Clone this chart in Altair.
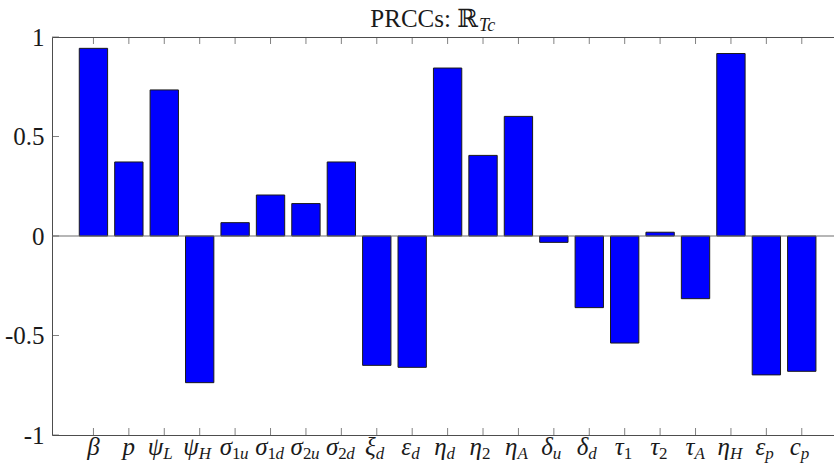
import altair as alt
import pandas as pd

# Parameter symbols (italic math) and their subscripts
symbols = ["β", "p", "ψ", "ψ", "σ", "σ", "σ", "σ", "ξ", "ε", "η",
           "η", "η", "δ", "δ", "τ", "τ", "τ", "η", "ε", "c"]
subscripts = ["", "", "L", "H", "1u", "1d", "2u", "2d", "d", "d", "d",
              "2", "A", "u", "d", "1", "2", "A", "H", "p", "p"]
# Partial rank correlation coefficients
prcc = [0.943, 0.372, 0.734, -0.737, 0.067, 0.206, 0.163, 0.372, -0.650, -0.660, 0.844,
        0.405, 0.601, -0.032, -0.360, -0.538, 0.019, -0.315, 0.917, -0.698, -0.680]
y_ticks = [-1, -0.5, 0, 0.5, 1]

W, H = 782, 398
X_MIN, X_MAX = -0.17, 21.91
PX = W / (X_MAX - X_MIN)  # pixels per bar slot

df = pd.DataFrame({
    "idx": list(range(1, len(prcc) + 1)),
    "sym": symbols,
    "sub": subscripts,
    "prcc": prcc,
})
df["nsub"] = df["sub"].str.len()
df["s1"] = df["sub"].str[:1]
df["s2"] = df["sub"].str[1:2]
df["s1digit"] = df["s1"].str.isdigit()

xscale = alt.Scale(domain=[X_MIN, X_MAX], nice=False, zero=False)
yscale = alt.Scale(domain=[-1, 1], nice=False, zero=False)

FONT = "'Liberation Serif', 'DejaVu Serif', serif"
EDGE = "#4d4d4d"

base = alt.Chart(df)

bars = base.transform_calculate(
    x0="datum.idx - 0.4", x1="datum.idx + 0.4"
).mark_bar(color="#0000ff", stroke="#1a1a1a", strokeWidth=1).encode(
    x=alt.X("x0:Q", scale=xscale, axis=None),
    x2="x1:Q",
    y=alt.Y("prcc:Q", scale=yscale, axis=alt.Axis(
        values=y_ticks, ticks=False, domain=False, grid=False, title=None,
        labelFont=FONT, labelFontSize=25, labelColor="#1a1a1a", labelPadding=8,
        labelFlush=False,
        labelExpr="datum.value < 0 ? '-' + format(-datum.value, '.1~f') : format(datum.value, '.1~f')",
    )),
    y2=alt.datum(0),
)

baseline = alt.Chart(pd.DataFrame({"v": [0]})).mark_rule(color="#6e6e6e", strokeWidth=1.2).encode(
    y=alt.Y("v:Q", scale=yscale)
)

# inward ticks on the bottom and top edges
xt_bottom = base.mark_tick(orient="vertical", size=7, thickness=1, color=EDGE).encode(
    x=alt.X("idx:Q", scale=xscale), y=alt.value(H - 3.5)
)
xt_top = base.mark_tick(orient="vertical", size=7, thickness=1, color=EDGE).encode(
    x=alt.X("idx:Q", scale=xscale), y=alt.value(3.5)
)
yt = alt.Chart(pd.DataFrame({"v": y_ticks})).mark_tick(
    orient="horizontal", size=7, thickness=1, color=EDGE
).encode(y=alt.Y("v:Q", scale=yscale), x=alt.value(3.5))

# tick labels: symbol + subscript
MAIN_Y = H + 20
SUB_Y = H + 24
split = base.transform_calculate(
    xs=f"datum.idx + (datum.nsub == 2 ? -3 : -1) / {PX}",
    xs2=f"datum.idx + (datum.nsub == 2 ? -3 : -1) / {PX} + 8 / {PX}",
)
txt = dict(font=FONT, color="#1a1a1a", baseline="alphabetic")

lab_plain = base.transform_filter("datum.nsub == 0").mark_text(
    align="center", fontSize=25, fontStyle="italic", **txt
).encode(x=alt.X("idx:Q", scale=xscale), y=alt.value(MAIN_Y), text="sym:N")

lab_main = split.transform_filter("datum.nsub > 0").mark_text(
    align="right", fontSize=25, fontStyle="italic", **txt
).encode(x=alt.X("xs:Q", scale=xscale), y=alt.value(MAIN_Y), text="sym:N")

lab_s1_it = split.transform_filter("datum.nsub > 0 && !datum.s1digit").mark_text(
    align="left", fontSize=17, fontStyle="italic", **txt
).encode(x=alt.X("xs:Q", scale=xscale), y=alt.value(SUB_Y), text="s1:N")

lab_s1_up = split.transform_filter("datum.nsub > 0 && datum.s1digit").mark_text(
    align="left", fontSize=17, **txt
).encode(x=alt.X("xs:Q", scale=xscale), y=alt.value(SUB_Y), text="s1:N")

lab_s2 = split.transform_filter("datum.nsub == 2").mark_text(
    align="left", fontSize=17, fontStyle="italic", **txt
).encode(x=alt.X("xs2:Q", scale=xscale), y=alt.value(SUB_Y), text="s2:N")

# title: PRCCs: R_{Tc}
title_df = pd.DataFrame({"main": ["PRCCs: ℝ"], "sub": ["Tc"]})
title_main = alt.Chart(title_df).mark_text(
    align="right", fontSize=25, **txt
).encode(x=alt.value(426), y=alt.value(-10), text="main:N")
title_sub = alt.Chart(title_df).mark_text(
    align="left", fontSize=18, fontStyle="italic", **txt
).encode(x=alt.value(427), y=alt.value(-6.5), text="sub:N")

chart = alt.layer(
    bars, baseline, xt_bottom, xt_top, yt,
    lab_plain, lab_main, lab_s1_it, lab_s1_up, lab_s2,
    title_main, title_sub,
).properties(
    width=W, height=H,
    autosize=alt.AutoSizeParams(type="none"),
    padding={"left": 52, "top": 37, "right": 0, "bottom": 33},
).configure_view(stroke=EDGE, strokeWidth=1)

chart.save("out.html", embed_options={"renderer": "svg", "actions": False})
